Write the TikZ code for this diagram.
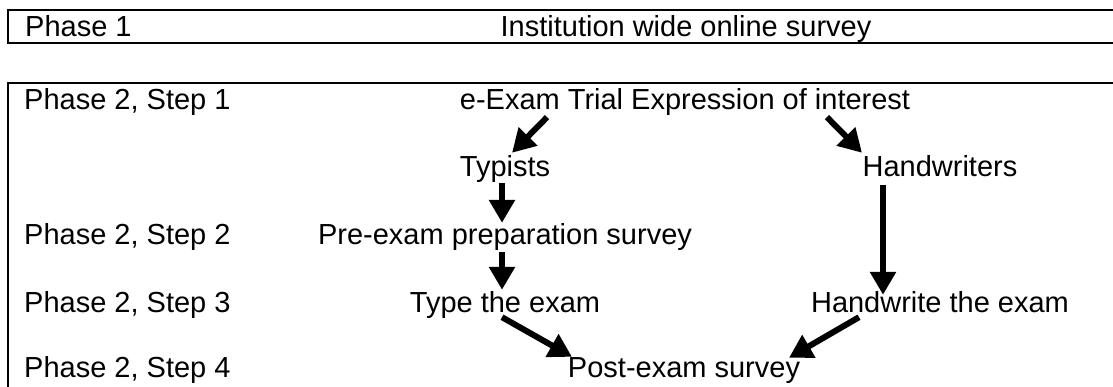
\documentclass[tikz,border=0pt]{standalone}
\usepackage{fontspec}
\setmainfont{Liberation Sans}
\usetikzlibrary{arrows.meta}
\begin{document}
\begin{tikzpicture}[x=1pt,y=-1pt,
  txt/.style={inner sep=0pt, anchor=base, text height=21pt, text depth=6pt, font=\fontsize{29}{34}\selectfont},
  lbl/.style={txt, anchor=base west},
  frame/.style={line width=2pt, line join=miter},
  arr/.style={line width=6pt, -{Triangle[length=23pt,width=25pt]}}]
\useasboundingbox (0,0) rectangle (1113,387);
% frames
\draw[frame] (1125,10) -- (8,10) -- (8,43) -- (1125,43);
\draw[frame] (1125,83) -- (8,83) -- (8,400);
% left labels
\node[lbl] (p1) at (25,37) {Phase 1};
\node[lbl] (s1) at (24,110) {Phase 2, Step 1};
\node[lbl] (s2) at (24,245) {Phase 2, Step 2};
\node[lbl] (s3) at (24,312) {Phase 2, Step 3};
\node[lbl] (s4) at (24,377) {Phase 2, Step 4};
% contents
\node[txt] (inst) at (686,37) {Institution wide online survey};
\node[txt] (exp) at (685,110) {e-Exam Trial Expression of interest};
\node[txt] (typ) at (505,177) {Typists};
\node[txt] (hand) at (940,177) {Handwriters};
\node[txt] (pre) at (505,245) {Pre-exam preparation survey};
\node[txt] (type) at (505,312) {Type the exam};
\node[txt] (hwx) at (940,312) {Handwrite the exam};
\node[txt] (post) at (684,377) {Post-exam survey};
% connectors
\draw[arr] ([shift={(-138,1)}]exp.south) -- ([shift={(7,-3)}]typ.north);
\draw[arr] ([shift={(142,1)}]exp.south) -- ([shift={(-78,-3)}]hand.north);
\draw[arr] ([shift={(-3,0)}]typ.south) -- ([shift={(-3,-1)}]pre.north);
\draw[arr] ([shift={(-3,1)}]pre.south) -- ([shift={(-3,-1)}]type.north);
\draw[arr] ([shift={(-57,2)}]hand.south) -- ([shift={(-57,4)}]hwx.north);
\draw[arr] ([shift={(-3,-1)}]type.south) -- ([shift={(-112,1)}]post.north);
\draw[arr] ([shift={(-81,-1)}]hwx.south) -- ([shift={(105,2)}]post.north);
\end{tikzpicture}
\end{document}
